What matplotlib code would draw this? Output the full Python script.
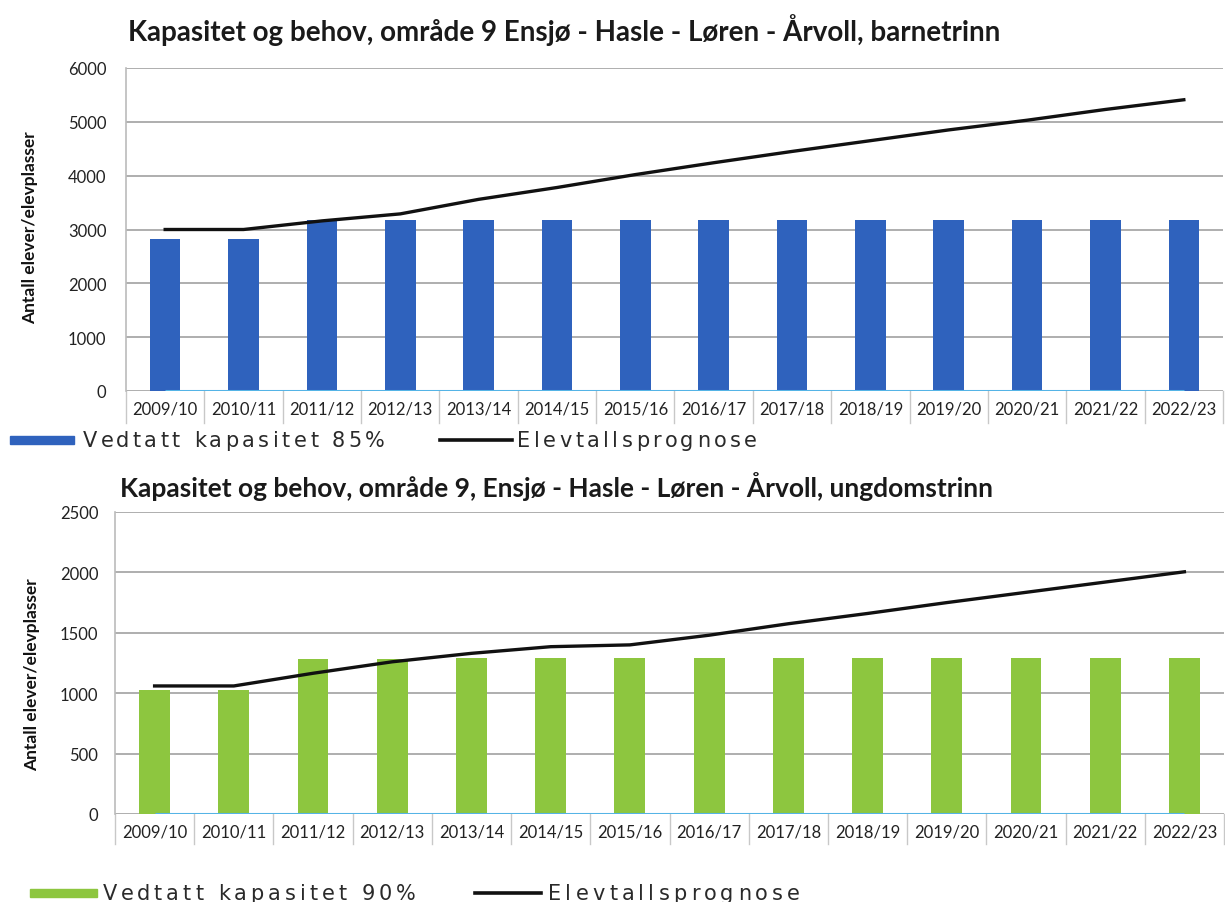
import matplotlib
matplotlib.use("Agg")
import matplotlib.pyplot as plt
from matplotlib.patches import Rectangle
from matplotlib.lines import Line2D
import matplotlib.transforms as mtransforms
import numpy as np

# ---------------- data ----------------
categories = ['2009/10', '2010/11', '2011/12', '2012/13', '2013/14', '2014/15', '2015/16',
              '2016/17', '2017/18', '2018/19', '2019/20', '2020/21', '2021/22', '2022/23']

barne_kapasitet = [2830, 2830, 3170, 3170, 3170, 3170, 3170,
                   3170, 3170, 3170, 3170, 3170, 3170, 3170]
barne_prognose = [3000, 3000, 3160, 3290, 3560, 3780, 4020,
                  4240, 4450, 4650, 4850, 5030, 5230, 5410]
barne_null = [0, 0, 0, 0, 0, 0, 0, 0, 0, 0, 0, 0, 0, 0]

ungdom_kapasitet = [1025, 1025, 1285, 1285, 1290, 1290, 1290,
                    1290, 1290, 1290, 1290, 1290, 1290, 1290]
ungdom_prognose = [1060, 1060, 1165, 1260, 1330, 1385, 1400,
                   1480, 1575, 1660, 1750, 1835, 1920, 2005]
ungdom_null = [0, 0, 0, 0, 0, 0, 0, 0, 0, 0, 0, 0, 0, 0]

barne_yticks = [0, 1000, 2000, 3000, 4000, 5000, 6000]
ungdom_yticks = [0, 500, 1000, 1500, 2000, 2500]

title_top = "Kapasitet og behov, område 9 Ensjø - Hasle - Løren - Årvoll, barnetrinn"
title_bot = "Kapasitet og behov, område 9, Ensjø - Hasle - Løren - Årvoll, ungdomstrinn"
ylabel = "Antall elever/elevplasser"
leg_top_bar = "Vedtatt kapasitet 85%"
leg_bot_bar = "Vedtatt kapasitet 90%"
leg_line = "Elevtallsprognose"

# ---------------- style ----------------
W, H = 1225, 903
fig = plt.figure(figsize=(W / 100, H / 100), dpi=100)
FONT = ['Lato', 'DejaVu Sans']
LEGFONT = ['DejaVu Sans']
BLUE = '#2F62BD'
GREEN = '#8DC63F'
ZERO = '#55B4E6'
GRID = '#A8A8A8'
renderer = fig.canvas.get_renderer()


def fx(px):
    return px / W


def fy(py):
    return 1 - py / H


def text_width(s, **kw):
    t = fig.text(0, 0, s, **kw)
    w = t.get_window_extent(renderer=renderer).width
    t.remove()
    return w


def tracked_text(x0, xend, y, s, **kw):
    """Letter-spaced text spanning x0..xend pixels."""
    n = len(s)
    natural = text_width(s, **kw)
    track = (xend - x0 - natural) / (n - 1)
    bar_w = text_width('|', **kw)
    for i, ch in enumerate(s):
        if ch == ' ':
            continue
        pre = text_width(s[:i] + '|', **kw) - bar_w if i > 0 else 0
        fig.text(fx(x0 + pre + i * track), fy(y), ch, ha='left', va='center', **kw)


def make_chart(rect, bars, prog, zero, color, yticks, ymax, title, title_xy, title_size,
               tickpad, ylab_xy):
    ax = fig.add_axes(rect)
    x = np.arange(len(categories))
    ax.bar(x, bars, width=0.39, color=color, zorder=2)
    ax.plot(x, zero, color=ZERO, lw=2.2, zorder=3, solid_capstyle='butt')
    ax.plot(x, prog, color='#111111', lw=2.4, zorder=4)
    ax.set_xlim(-0.5, len(categories) - 0.5)
    ax.set_ylim(0, ymax)
    ax.set_yticks(yticks)
    ax.set_yticklabels([str(v) for v in yticks], fontfamily=FONT, fontsize=12, color='#222222')
    ax.set_xticks(x)
    ax.set_xticklabels(categories, fontfamily=FONT, fontsize=12, color='#222222')
    ax.tick_params(axis='y', length=0, pad=tickpad)
    ax.tick_params(axis='x', length=0, pad=7)
    for s in ['top', 'right', 'bottom']:
        ax.spines[s].set_visible(False)
    ax.spines['left'].set_color('#BBBBBB')
    ax.spines['left'].set_linewidth(1.2)
    ax.grid(axis='y', color=GRID, lw=1.3, zorder=0)
    ax.set_axisbelow(True)
    trans = mtransforms.blended_transform_factory(ax.transData, ax.transAxes)
    for b in np.arange(-0.5, len(categories) - 0.4, 1.0):
        ax.plot([b, b], [0, -0.1], transform=trans, color='#C8C8C8', lw=1.0,
                clip_on=False, zorder=1)
    fig.text(fx(ylab_xy[0]), fy(ylab_xy[1]), ylabel, fontfamily=FONT, fontsize=12.5,
             fontweight='bold', rotation=90, ha='center', va='center', color='#111111')
    fig.text(fx(title_xy[0]), fy(title_xy[1]), title, fontfamily=FONT, fontsize=title_size,
             fontweight='bold', ha='left', va='center', color='#1a1a1a')
    return ax


ax1 = make_chart([fx(126), fy(392), fx(1223) - fx(126), fy(69) - fy(392)],
                 barne_kapasitet, barne_prognose, barne_null, BLUE,
                 barne_yticks, 6000, title_top, (128, 30), 20, 14, (30, 228))

ax2 = make_chart([fx(115), fy(815), fx(1224) - fx(115), fy(513) - fy(815)],
                 ungdom_kapasitet, ungdom_prognose, ungdom_null, GREEN,
                 ungdom_yticks, 2500, title_bot, (120, 487), 19, 12, (32, 675))

LEGKW = dict(fontfamily=LEGFONT, fontsize=15, color='#2a2a2a')


def legend_row(y, bar_color, bar_x, bar_text, bar_tx, line_x, line_tx):
    fig.patches.append(Rectangle((fx(bar_x[0]), fy(y + 4)), fx(bar_x[1] - bar_x[0]), 8 / H,
                                 transform=fig.transFigure, color=bar_color, figure=fig))
    tracked_text(bar_tx[0], bar_tx[1], y, bar_text, **LEGKW)
    fig.lines.append(Line2D([fx(line_x[0]), fx(line_x[1])], [fy(y), fy(y)],
                            transform=fig.transFigure, color='#111111', lw=2.6, figure=fig))
    tracked_text(line_tx[0], line_tx[1], y, leg_line, **LEGKW)


legend_row(441, BLUE, (10, 74), leg_top_bar, (83, 385), (440, 512), (517, 757))
legend_row(894, GREEN, (30, 97), leg_bot_bar, (103, 416), (475, 541), (548, 800))

fig.savefig('out.png', dpi=100)
